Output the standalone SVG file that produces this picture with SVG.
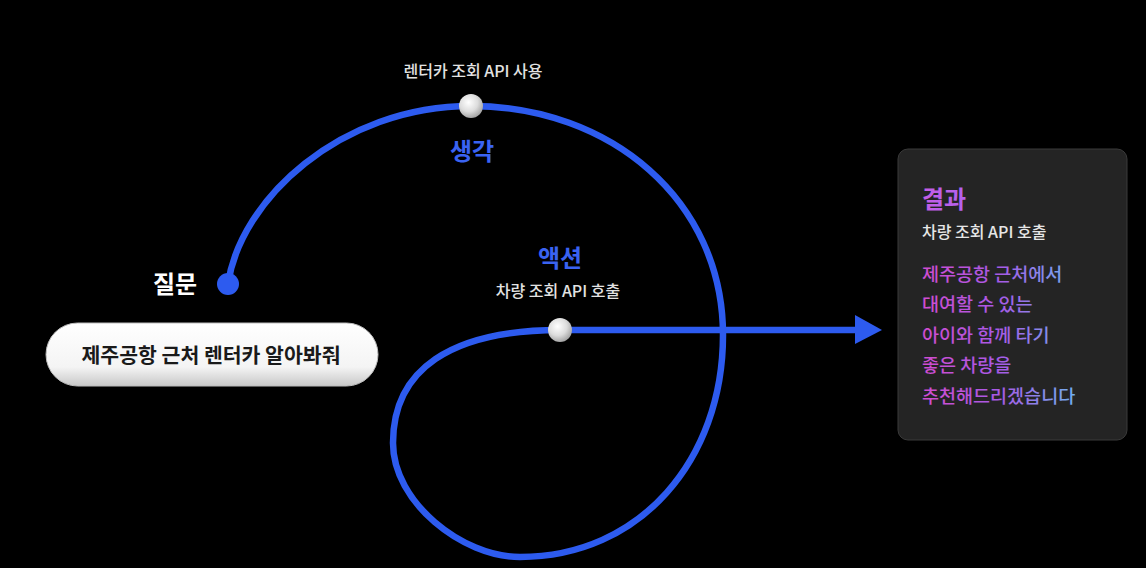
<svg xmlns="http://www.w3.org/2000/svg" width="1146" height="568" viewBox="0 0 1146 568">
<defs>
<radialGradient id="sphere" cx="0.4" cy="0.35" r="0.7">
<stop offset="0" stop-color="#ffffff"/>
<stop offset="0.55" stop-color="#dcdcdc"/>
<stop offset="1" stop-color="#9c9c9c"/>
</radialGradient>
<linearGradient id="pill" x1="0" y1="0" x2="0" y2="1">
<stop offset="0" stop-color="#ffffff"/>
<stop offset="0.7" stop-color="#f4f4f4"/>
<stop offset="1" stop-color="#c8c8c8"/>
</linearGradient>
<linearGradient id="resText" gradientUnits="userSpaceOnUse" x1="922" y1="0" x2="1078" y2="0">
<stop offset="0" stop-color="#d24ccf"/>
<stop offset="0.5" stop-color="#a65ae6"/>
<stop offset="1" stop-color="#6fb2ee"/>
</linearGradient>
<linearGradient id="titleGrad" gradientUnits="userSpaceOnUse" x1="922" y1="0" x2="972" y2="0">
<stop offset="0" stop-color="#c55ee6"/>
<stop offset="1" stop-color="#b062ee"/>
</linearGradient>
</defs>
<style>
.t{font-family:"Noto Sans CJK KR","Noto Sans",sans-serif}
.lbl{font-size:16px;font-weight:500;fill:#e2e2e2}
.big{font-size:24px;font-weight:700}
.res{font-size:18.5px;font-weight:500;fill:url(#resText)}
.flow{fill:none;stroke:#2d5bef;stroke-width:6.5;stroke-linecap:round;stroke-linejoin:round}
</style>
<rect width="1146" height="568" fill="#000"/>

<g id="connectors">
<path class="flow" d="M228,284 C240,200 340,106 471,106 C610,106 723,200 723,335 C723,460 640,557 520,557 C462,557 393,502 393,443 C393,370 450,330 560,330 L858,330"/>
<polygon points="855,315 882,330 855,344" fill="#2d5bef"/>
</g>

<g id="question">
<circle cx="228" cy="284" r="11" fill="#2d5bef"/>
<text class="t big" x="175" y="293" text-anchor="middle" fill="#ffffff">질문</text>
</g>

<g id="prompt">
<rect x="46" y="323" width="332" height="63" rx="31.5" fill="url(#pill)" stroke="#bdbdbd" stroke-width="1"/>
<text class="t" x="211" y="363" text-anchor="middle" font-size="20.5" font-weight="700" fill="#1a1a1a">제주공항 근처 렌터카 알아봐줘</text>
</g>

<g id="thought">
<text class="t lbl" x="473" y="77" text-anchor="middle">렌터카 조회 API 사용</text>
<circle cx="471" cy="106" r="12" fill="url(#sphere)"/>
<text class="t big" x="472" y="160" text-anchor="middle" fill="#3a63f2">생각</text>
</g>

<g id="action">
<text class="t big" x="560" y="267" text-anchor="middle" fill="#3a63f2">액션</text>
<text class="t lbl" x="558" y="297" text-anchor="middle">차량 조회 API 호출</text>
<circle cx="560" cy="330" r="12" fill="url(#sphere)"/>
</g>

<g id="result">
<rect x="898" y="149" width="229" height="291" rx="10" fill="#242424" stroke="#3a3a3a" stroke-width="1"/>
<text class="t big" x="922" y="208" fill="url(#titleGrad)">결과</text>
<text class="t" x="922" y="238" font-size="16" font-weight="500" fill="#e6e6e6">차량 조회 API 호출</text>
<text class="t res" x="922" y="281">제주공항 근처에서</text>
<text class="t res" x="922" y="311">대여할 수 있는</text>
<text class="t res" x="922" y="342">아이와 함께 타기</text>
<text class="t res" x="922" y="372">좋은 차량을</text>
<text class="t res" x="922" y="403">추천해드리겠습니다</text>
</g>
</svg>
